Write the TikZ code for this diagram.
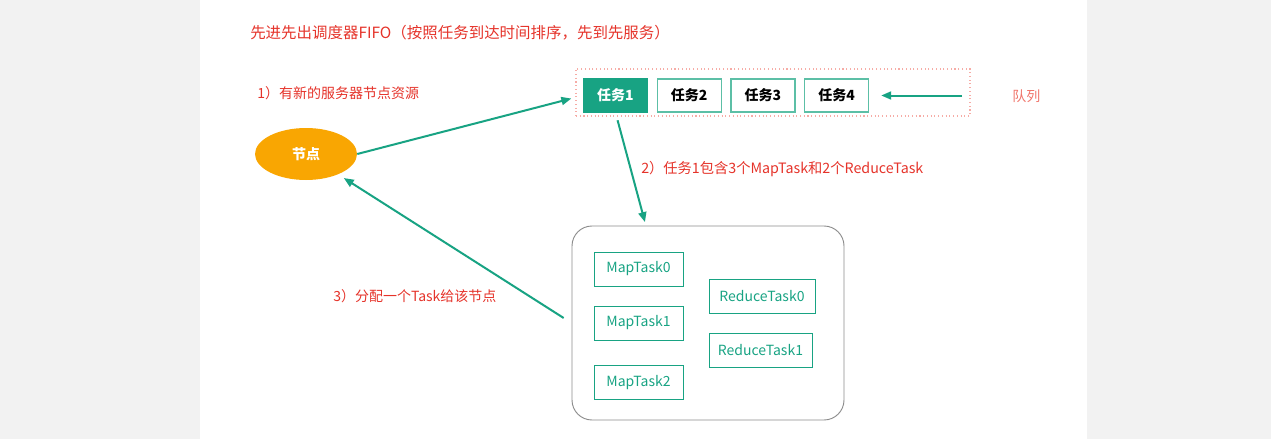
\documentclass[tikz,border=0pt]{standalone}
\usepackage{fontspec}
\setmainfont{Noto Sans CJK SC}
\usepackage{tikz}
\usetikzlibrary{arrows.meta, positioning, shapes.geometric}

\definecolor{teal}{HTML}{18A383}
\definecolor{lightteal}{HTML}{5CBFA6}
\definecolor{note}{HTML}{E5332A}
\definecolor{queuered}{HTML}{F0756B}
\definecolor{nodeorange}{HTML}{F9A602}

\begin{document}
\begin{tikzpicture}[
				x=0.75pt, y=-0.75pt,
				font=\fontsize{10.5}{12}\selectfont,
				label/.style={anchor=west, text=note, inner sep=0pt},
				task/.style={rectangle, draw=lightteal, line width=0.8pt, fill=white, minimum width=48pt, minimum height=24.75pt, inner sep=0pt, font=\fontsize{10.5}{12}\selectfont\bfseries},
				subtask/.style={rectangle, draw=teal, line width=0.7pt, text=teal, minimum height=25.5pt, inner sep=0pt},
				arrow/.style={-{Triangle[length=7.5pt, width=6pt]}, line width=1.5pt, draw=teal}
				]
				
				\useasboundingbox (0,0) rectangle (1271,439);
				\fill[black!5] (0,0) rectangle (200,439);
				\fill[black!5] (1087,0) rectangle (1271,439);
				
				\node[label, font=\fontsize{11.6}{13}\selectfont] (title) at (250,33) {先进先出调度器FIFO（按照任务到达时间排序，先到先服务）};
				\node[label] (step1) at (257,93) {1）有新的服务器节点资源};
				\node[label, font=\fontsize{10.7}{12}\selectfont] (step2) at (641,169) {2）任务1包含3个MapTask和2个ReduceTask};
				\node[label] (step3) at (333,296) {3）分配一个Task给该节点};
				
				\node[ellipse, fill=nodeorange, text=white, minimum width=76.5pt, minimum height=39pt, inner sep=0pt] (worker) at (306,154) {\bfseries 节点};
				
				\node[rectangle, draw=queuered!60, dotted, line width=0.8pt, minimum width=295.5pt, minimum height=35.25pt] (queue) at (773,92.5) {};
				\node[task, fill=teal, draw=teal, text=white] (task1) at (615.5,95.5) {任务1};
				\node[task, right=6.5pt of task1] (task2) {任务2};
				\node[task, right=6.5pt of task2] (task3) {任务3};
				\node[task, right=6.5pt of task3] (task4) {任务4};
				\node[anchor=west, text=queuered, inner sep=0pt] (queuelabel) at (1012,96) {队列};
				\coordinate (queuetail) at (962,95.5);
				
				\node[rectangle, rounded corners=15pt, draw=black!45, line width=0.7pt, minimum width=204pt, minimum height=145.5pt] (pool) at (708,323) {};
				\node[subtask, minimum width=66.75pt] (map0) at (638.5,269) {MapTask0};
				\node[subtask, minimum width=66.75pt] (map1) at (638.5,323) {MapTask1};
				\node[subtask, minimum width=66.75pt] (map2) at (638.5,382.5) {MapTask2};
				\node[subtask, minimum width=79.5pt] (reduce0) at (762,296) {ReduceTask0};
				\node[subtask, minimum width=77.25pt] (reduce1) at (760.5,350) {ReduceTask1};
				\coordinate (poolin) at (646,226);
				
				\draw[arrow, shorten >=9pt] (queuetail) -- (task4.east);
				\draw[arrow, shorten >=9pt] (worker.east) -- (task1.west);
				\draw[arrow, shorten <=6pt, shorten >=3pt] (task1.south) -- (poolin);
				\draw[arrow, shorten <=7pt, shorten >=5pt] (pool.west) -- (worker);
				
			\end{tikzpicture}
\end{document}
